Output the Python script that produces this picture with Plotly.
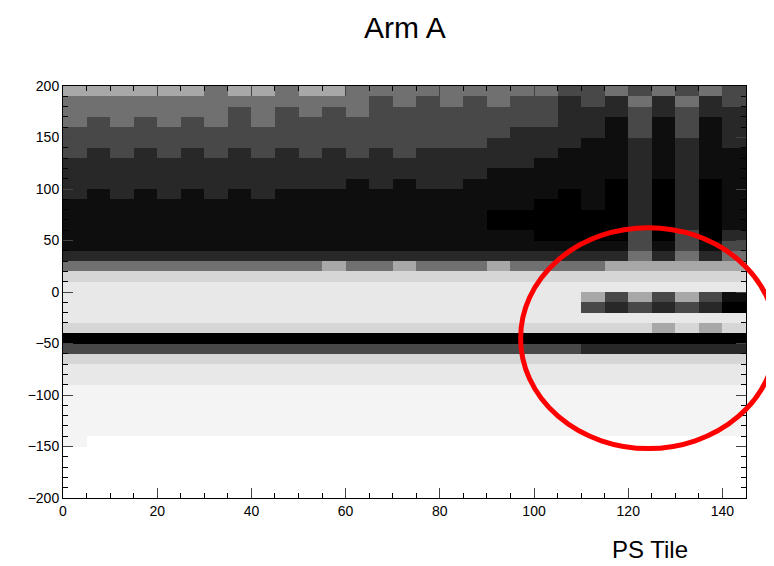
import plotly.graph_objects as go

# Density of points per (tile bin, value bin) (0 = empty, 9 = solid black)
x_centers = [2.5 + 5 * i for i in range(29)]
y_centers = [195 - 10 * j for j in range(40)]
density_rows = [
    "44444454454455555555566565656",
    "55555555555556565656676757576",
    "55555556565656666666677767677",
    "56565656566666666666677868687",
    "66666666666666666667777868687",
    "66666666666666666677778878787",
    "67676767676767677777788878788",
    "77777777777777777777888878788",
    "77777777777777777788888878788",
    "77777777777787877888888979798",
    "78787878788888888888898979798",
    "88888888888888888888998979798",
    "88888888888888888899999979798",
    "88888888888888888899999979798",
    "88888888888888888888999969697",
    "88888888888888888888888868686",
    "77777777777777777777777757575",
    "55555555555455455545555444444",
    "33333333333333333333333333333",
    "22222222222222222222222222222",
    "22222222222222222222224646468",
    "22222222222222222222226767679",
    "22222222222222222222222222222",
    "33333333333333333333333334343",
    "99999999999999999999999999999",
    "66666666666666666666667777777",
    "33333333333333333333333333333",
    "22222222222222222222222222222",
    "22222222222222222222222222222",
    "11111111111111111111111111111",
    "11111111111111111111111111111",
    "11111111111111111111111111111",
    "11111111111111111111111111111",
    "11111111111111111111111111111",
    "10000000000000000000000000000",
    "00000000000000000000000000000",
    "00000000000000000000000000000",
    "00000000000000000000000000000",
    "00000000000000000000000000000",
    "00000000000000000000000000000",
]
z = [[int(c) for c in row.ljust(29, "0")[:29]] for row in density_rows]

fig = go.Figure(go.Heatmap(
    x=x_centers, y=y_centers, z=z, zmin=0, zmax=9, zsmooth=False, showscale=False,
    colorscale=[[0, "white"], [1/9, "#f4f4f4"], [2/9, "#e8e8e8"], [3/9, "#d6d6d6"], [4/9, "#a8a8a8"],
                [5/9, "#707070"], [6/9, "#484848"], [7/9, "#282828"], [8/9, "#0e0e0e"], [1, "black"]],
    hoverinfo="skip"))

fig.update_layout(
    width=774, height=566, paper_bgcolor="white", plot_bgcolor="white",
    margin=dict(l=55, r=36, t=78, b=76),
    font=dict(family="Liberation Sans, Arial", size=14, color="black"),
    showlegend=False,
    annotations=[
        dict(text="Arm A", x=0.5, y=1, xref="paper", yref="paper", xanchor="center", yanchor="bottom",
             yshift=40, showarrow=False, font=dict(family="Liberation Sans, Arial", size=30)),
        dict(text="PS Tile", x=0.86, y=0, xref="paper", yref="paper", xanchor="center", yanchor="top",
             yshift=-36, showarrow=False, font=dict(family="Liberation Sans, Arial", size=24)),
    ],
    shapes=[dict(type="circle", xref="paper", yref="paper", x0=0.67, x1=1.044, y0=0.12, y1=0.656,
                 line=dict(color="red", width=5))],
)
fig.update_xaxes(range=[0, 145], dtick=20, ticks="inside", ticklen=10, showline=True, linecolor="black",
                 mirror="ticks", showgrid=False, zeroline=False,
                 minor=dict(dtick=5, ticks="inside", ticklen=5, tickcolor="black"))
fig.update_yaxes(range=[-200, 200], dtick=50, ticks="inside", ticklen=10, showline=True, linecolor="black",
                 mirror="ticks", showgrid=False, zeroline=False,
                 minor=dict(dtick=10, ticks="inside", ticklen=5, tickcolor="black"))
fig.write_html("out.html")
